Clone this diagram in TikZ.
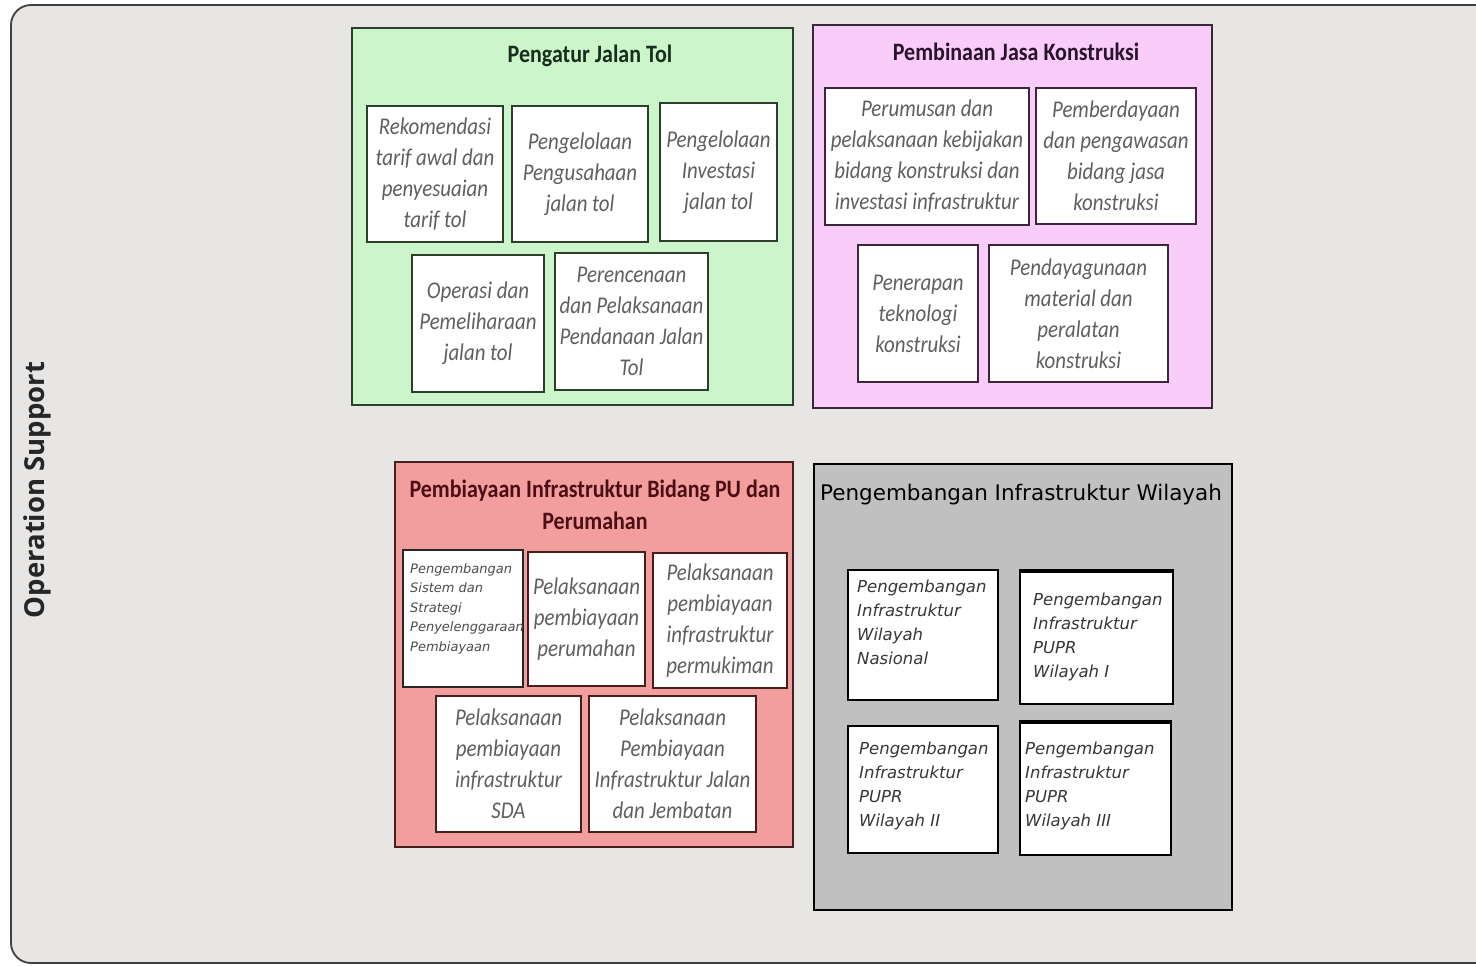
\documentclass[tikz,border=0pt]{standalone}
\usepackage{fontspec}
\setmainfont{Carlito}
\newfontfamily\boxfont[FakeStretch=0.87]{Carlito}
\newfontfamily\titlefont[FakeStretch=0.88]{Carlito}
\newfontfamily\grfont{DejaVu Sans}
\newfontfamily\opfont{Open Sans}
\definecolor{bg}{RGB}{232,229,229}
\definecolor{greenfill}{RGB}{204,245,204}
\definecolor{pinkfill}{RGB}{249,204,249}
\definecolor{redfill}{RGB}{243,158,158}
\definecolor{greyfill}{RGB}{192,192,192}
\definecolor{boxtext}{RGB}{95,95,95}
\definecolor{gtext}{RGB}{55,55,55}
\definecolor{greenline}{RGB}{45,62,45}
\definecolor{pinkline}{RGB}{58,40,58}
\definecolor{redline}{RGB}{70,30,30}
\definecolor{greentitle}{RGB}{25,45,28}
\definecolor{pinktitle}{RGB}{40,20,45}
\definecolor{redtitle}{RGB}{75,14,20}
\tikzset{
  panel/.style={draw, line width=2pt, inner sep=0pt},
  box/.style={draw, fill=white, line width=2pt, inner sep=0pt, align=center,
    font=\boxfont\itshape\fontsize{24}{31}\selectfont, text=boxtext},
  gbox/.style={draw=black, fill=white, line width=2pt, inner sep=0pt},
  gtxt/.style={inner sep=0pt, anchor=north west, align=left, text=gtext,
    font=\grfont\itshape\fontsize{16.5}{24}\selectfont},
  title/.style={inner sep=0pt, align=center,
    font=\titlefont\bfseries\fontsize{25}{32}\selectfont},
}
\begin{document}
\begin{tikzpicture}[x=1pt,y=-1pt]
\useasboundingbox (0,0) rectangle (1476,966);
\begin{scope}
\clip (0,0) rectangle (1476,966);
\fill[white] (0,0) rectangle (1476,966);
\draw[fill=bg, draw=black!75, line width=1.8pt, rounded corners=20pt] (11,5) rectangle (1530,963);
\end{scope}
\node[rotate=90, inner sep=0pt, font=\opfont\bfseries\fontsize{27.5}{32}\selectfont, text=black!85] (op) at (37,490) {Operation Support};

% Panel 1 green
\node[panel, draw=greenline, fill=greenfill, minimum width=441pt, minimum height=377pt] (p1) at (572.5,216.5) {};
\node[title, text=greentitle] (t1) at (590,56) {Pengatur Jalan Tol};
\node[box, draw=greenline, minimum width=136pt, minimum height=136pt] (a) at (435,174) {Rekomendasi\\tarif awal dan\\penyesuaian\\tarif tol};
\node[box, draw=greenline, minimum width=136pt, minimum height=136pt] (b) at (580,174) {Pengelolaan\\Pengusahaan\\jalan tol};
\node[box, draw=greenline, minimum width=117pt, minimum height=138pt] (c) at (718.5,172) {Pengelolaan\\Investasi\\jalan tol};
\node[box, draw=greenline, minimum width=132pt, minimum height=137pt] (d) at (478,323.5) {Operasi dan\\Pemeliharaan\\jalan tol};
\node[box, draw=greenline, minimum width=153pt, minimum height=137pt] (e) at (631.5,321.5) {Perencenaan\\dan Pelaksanaan\\Pendanaan Jalan\\Tol};

% Panel 2 pink
\node[panel, draw=pinkline, fill=pinkfill, minimum width=399pt, minimum height=383pt] (p2) at (1012.5,216.5) {};
\node[title, text=pinktitle] (t2) at (1016,52) {Pembinaan Jasa Konstruksi};
\node[box, draw=pinkline, minimum width=204pt, minimum height=137pt] (q1) at (927,156.5) {Perumusan dan\\pelaksanaan kebijakan\\bidang konstruksi dan\\investasi infrastruktur};
\node[box, draw=pinkline, minimum width=160pt, minimum height=136pt] (q2) at (1116,156) {Pemberdayaan\\dan pengawasan\\bidang jasa\\konstruksi};
\node[box, draw=pinkline, minimum width=120pt, minimum height=137pt] (q3) at (918,313.5) {Penerapan\\teknologi\\konstruksi};
\node[box, draw=pinkline, minimum width=179pt, minimum height=137pt] (q4) at (1078.5,313.5) {Pendayagunaan\\material dan\\peralatan\\konstruksi};

% Panel 3 red
\node[panel, draw=redline, fill=redfill, minimum width=398pt, minimum height=385pt] (p3) at (594,654.5) {};
\node[title, text=redtitle] (t3) at (595,505) {Pembiayaan Infrastruktur Bidang PU dan\\Perumahan};
\node[box, draw=black!85, line width=2.5pt, minimum width=120pt, minimum height=137pt] (r1) at (463,618.5) {};
\node[inner sep=0pt, anchor=north west, align=left, text=black!70, font=\grfont\itshape\fontsize{13}{19.5}\selectfont] (r1t) at (410,563) {Pengembangan\\Sistem dan\\Strategi\\Penyelenggaraan\\Pembiayaan};
\node[box, draw=redline, minimum width=117pt, minimum height=134pt] (r2) at (586.5,619) {Pelaksanaan\\pembiayaan\\perumahan};
\node[box, draw=redline, minimum width=134pt, minimum height=135pt] (r3) at (720,620.5) {Pelaksanaan\\pembiayaan\\infrastruktur\\permukiman};
\node[box, draw=redline, minimum width=145pt, minimum height=136pt] (r4) at (508.5,764) {Pelaksanaan\\pembiayaan\\infrastruktur\\SDA};
\node[box, draw=redline, minimum width=167pt, minimum height=136pt] (r5) at (672.5,764) {Pelaksanaan\\Pembiayaan\\Infrastruktur Jalan\\dan Jembatan};

% Panel 4 grey
\node[panel, draw=black, line width=2.5pt, fill=greyfill, minimum width=418pt, minimum height=446pt] (p4) at (1023,687) {};
\node[inner sep=0pt, font=\grfont\fontsize{21.5}{26}\selectfont, text=black] (t4) at (1021,495) {Pengembangan Infrastruktur Wilayah};
\node[gbox, minimum width=150pt, minimum height=130pt] (g1) at (923,635) {};
\node[gbox, minimum width=153pt, minimum height=132pt] (g2) at (1096.5,638) {};
\node[gbox, minimum width=150pt, minimum height=127pt] (g3) at (923,789.5) {};
\node[gbox, minimum width=151pt, minimum height=132pt] (g4) at (1095.5,789) {};
\draw[line width=3.5pt] (g2.north west) -- (g2.north east);
\draw[line width=3.5pt] (g4.north west) -- (g4.north east);
\node[gtxt] (g1t) at (857,580) {Pengembangan\\Infrastruktur\\Wilayah\\Nasional};
\node[gtxt] (g2t) at (1033,593) {Pengembangan\\Infrastruktur\\PUPR\\Wilayah I};
\node[gtxt] (g3t) at (859,742) {Pengembangan\\Infrastruktur\\PUPR\\Wilayah II};
\node[gtxt] (g4t) at (1025,742) {Pengembangan\\Infrastruktur\\PUPR\\Wilayah III};
\end{tikzpicture}
\end{document}
